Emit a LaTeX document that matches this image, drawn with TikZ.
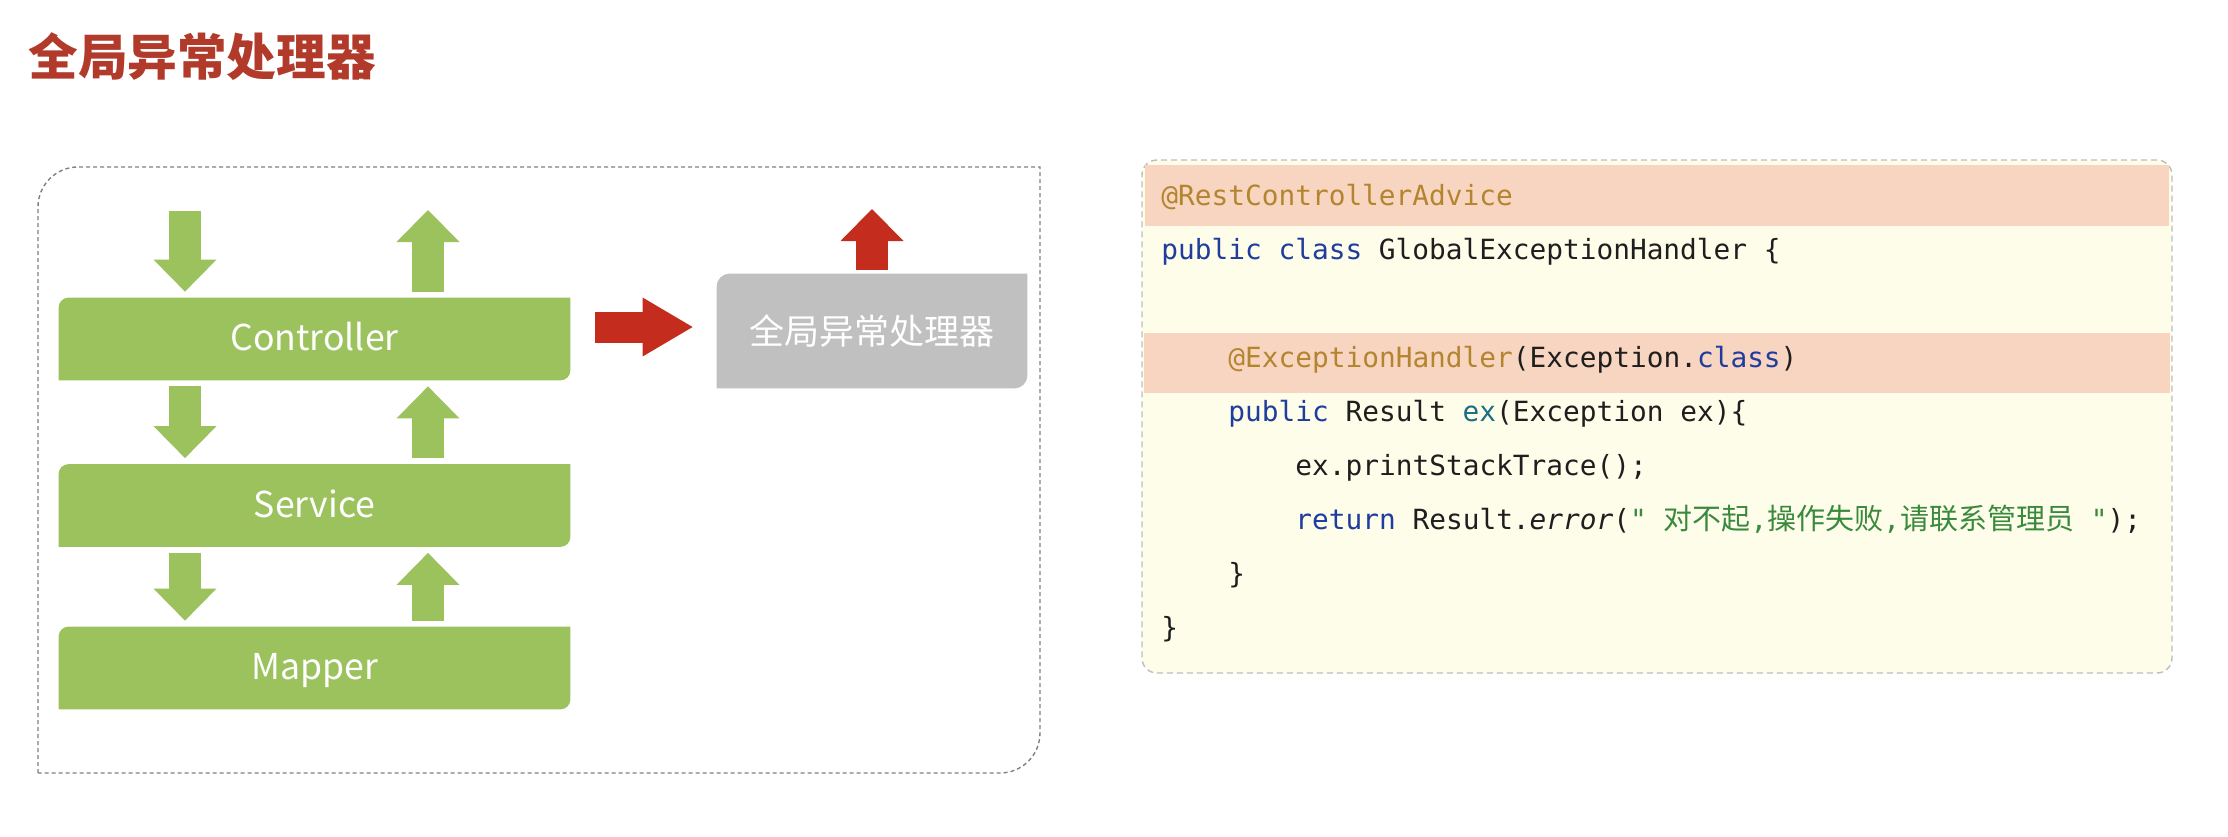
\documentclass[tikz,border=0pt]{standalone}
\usepackage{fontspec}
\newfontfamily\cjk{Noto Sans CJK SC}
\newfontfamily\codefont{DejaVu Sans Mono}
\usetikzlibrary{arrows.meta,backgrounds}

\definecolor{boxgreen}{HTML}{9CC25E}
\definecolor{arrowred}{HTML}{C42C1E}
\definecolor{handlergray}{HTML}{C0C0C0}
\definecolor{titlered}{HTML}{B23A2A}
\definecolor{framegray}{HTML}{808080}
\definecolor{codeedge}{HTML}{BDBDBD}
\definecolor{codebg}{HTML}{FEFDEA}
\definecolor{codemark}{HTML}{F8D5C1}
\definecolor{kwblue}{HTML}{1F3C9E}
\definecolor{annot}{HTML}{B3852F}
\definecolor{strgreen}{HTML}{3A8A3E}
\definecolor{methteal}{HTML}{1B6E85}
\definecolor{codetext}{HTML}{1E1E1E}

\newcommand\zh[1]{{\cjk\fontsize{14.5}{14.5}\selectfont #1}}

\tikzset{
	layer/.style={text=white, minimum width=255.5pt, minimum height=41pt, inner sep=0pt, text height=11.8pt, text depth=0pt, font=\cjk\fontsize{17.8}{17.8}\selectfont},
	handler/.style={text=white, minimum width=155pt, minimum height=57pt, inner sep=0pt, text height=13.3pt, text depth=0pt, font=\cjk\fontsize{17.5}{17.5}\selectfont},
	blockarrow/.style={line width=16pt, -{Triangle[length=16pt,width=31.5pt,line width=0pt]}, shorten <=3pt, shorten >=3pt},
	redarrow/.style={arrowred, line width=15.5pt, -{Triangle[length=25pt,width=29.5pt,line width=0pt]}, shorten <=12.5pt, shorten >=12pt},
	frame/.style={draw=framegray, line width=0.7pt, dash pattern=on 2pt off 1.5pt},
	codebox/.style={fill=codebg, draw=codeedge, line width=0.7pt, dash pattern=on 3pt off 2pt, rounded corners=7.5pt, minimum width=515pt, minimum height=256.5pt, inner sep=0pt},
	codeline/.style={anchor=base west, inner sep=0pt, text=codetext, font=\codefont\fontsize{13.9}{13.9}\selectfont}
}

\begin{document}
\begin{tikzpicture}[x=0.5pt, y=-0.5pt]
	\useasboundingbox (0,0) rectangle (2228,836);
	
	%Titel
	\node[anchor=west, inner sep=0pt, text=titlered, font=\cjk\bfseries\fontsize{24.8}{24.8}\selectfont] (title) at (28,56.5) {全局异常处理器};
	
	%Rahmen
	\draw[frame] (38,773) -- (38,207) arc[start angle=180, end angle=270, radius=40] -- (1040,167) -- (1040,733) arc[start angle=0, end angle=90, radius=40] -- cycle;
	
	%Schichten
	\node[layer] (ctrl) at (314.5,339) {Controller};
	\node[layer] (svc) at (314.5,505.5) {Service};
	\node[layer] (mapper) at (314.5,668) {Mapper};
	\node[handler] (gch) at (872,331) {全局异常处理器};
	\begin{scope}[on background layer]
	\fill[white] (0,0) rectangle (2228,836);
	\foreach \n in {ctrl,svc,mapper}
		\fill[boxgreen] (\n.south west) -- ([yshift=-5pt]\n.north west) arc[start angle=180, end angle=270, radius=10] -- (\n.north east) -- ([yshift=5pt]\n.south east) arc[start angle=0, end angle=90, radius=10] -- cycle;
	\fill[handlergray] (gch.south west) -- ([yshift=-6.5pt]gch.north west) arc[start angle=180, end angle=270, radius=13] -- (gch.north east) -- ([yshift=6.5pt]gch.south east) arc[start angle=0, end angle=90, radius=13] -- cycle;
	\end{scope}
	
	%Pfeile
	\coordinate (in) at (185,205);
	\coordinate (out) at (428,204);
	\coordinate (rethrow) at (872,209);
	\begin{scope}[boxgreen]
	\draw[blockarrow] (in) -- (in |- ctrl.north);
	\draw[blockarrow] (ctrl.south -| in) -- (svc.north -| in);
	\draw[blockarrow] (svc.south -| in) -- (mapper.north -| in);
	\draw[blockarrow] (ctrl.north -| out) -- (out);
	\draw[blockarrow] (svc.north -| out) -- (ctrl.south -| out);
	\draw[blockarrow] (mapper.north -| out) -- (svc.south -| out);
	\end{scope}
	\draw[redarrow] ([yshift=2pt]ctrl.east |- gch.west) -- ([yshift=2pt]gch.west);
	\draw[blockarrow, arrowred, shorten <=2pt, shorten >=0pt] (gch.north) -- (rethrow);
	
	%Code
	\node[codebox] (code) at (1657,416.5) {};
	\fill[codemark] (1145,165) rectangle (2169,226);
	\fill[codemark] (1144,333) rectangle (2170,393);
	\node[codeline] (l1) at (1161,205) {\color{annot}@RestControllerAdvice};
	\node[codeline] (l2) at (1161,259) {\color{kwblue}public class \color{codetext}GlobalExceptionHandler \{};
	\node[codeline] (l4) at (1228,367) {\color{annot}@ExceptionHandler\color{codetext}(Exception.\color{kwblue}class\color{codetext})};
	\node[codeline] (l5) at (1228,421) {\color{kwblue}public \color{codetext}Result \color{methteal}ex\color{codetext}(Exception ex)\{};
	\node[codeline] (l6) at (1295,475) {ex.printStackTrace();};
	\node[codeline] (l7) at (1295,529) {\color{kwblue}return \color{codetext}Result.\textit{error}(\color{strgreen}" \zh{对不起},\zh{操作失败},\zh{请联系管理员} "\color{codetext});};
	\node[codeline] (l8) at (1228,583) {\}};
	\node[codeline] (l9) at (1161,637) {\}};
	
\end{tikzpicture}
\end{document}
